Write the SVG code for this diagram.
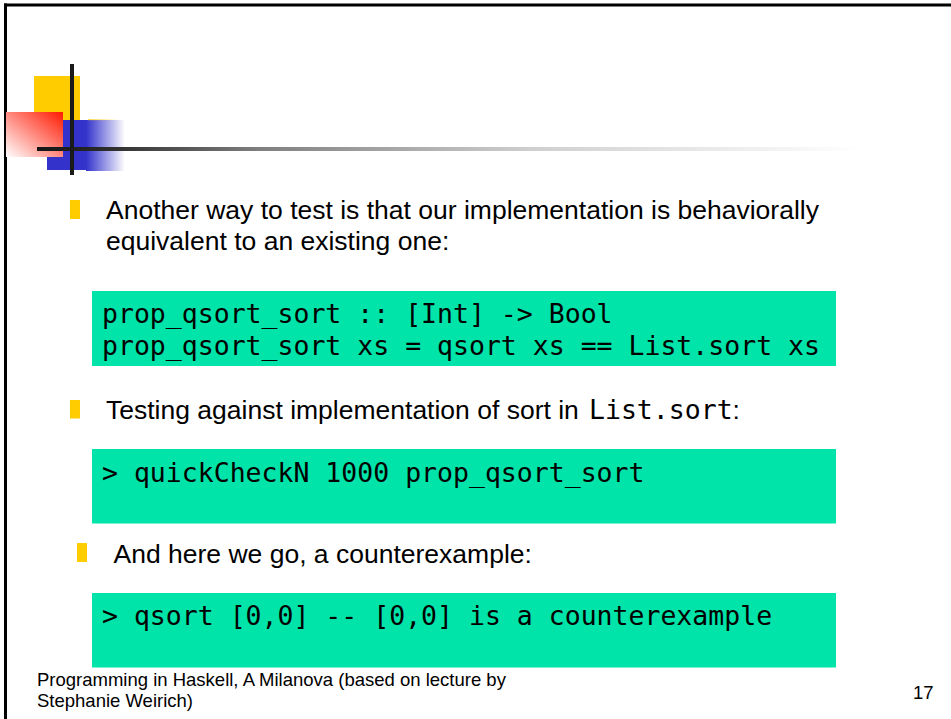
<svg xmlns="http://www.w3.org/2000/svg" width="951" height="719" viewBox="0 0 951 719">
  <style>
    .body { font-family: "Liberation Sans", Arial, sans-serif; font-size: 26.5px; fill: #000; }
    .code { font-family: "DejaVu Sans Mono", monospace; font-size: 26.5px; fill: #000; }
    .foot { font-family: "Liberation Sans", Arial, sans-serif; font-size: 18.5px; fill: #000; }
    .bullet { fill: #ffcc00; }
    .codebox { fill: #00e3a9; }
    .rule { fill: #1a1a1a; }
  </style>
  <defs>
    <linearGradient id="redFade" x1="1" y1="0" x2="0" y2="1">
      <stop offset="0" stop-color="#ff1a00"/>
      <stop offset="0.5" stop-color="#ff8a80"/>
      <stop offset="1" stop-color="#ffffff"/>
    </linearGradient>
    <linearGradient id="blueFade" x1="0" y1="0" x2="1" y2="0">
      <stop offset="0" stop-color="#3333cc" stop-opacity="1"/>
      <stop offset="1" stop-color="#3333cc" stop-opacity="0"/>
    </linearGradient>
    <linearGradient id="yellowFade" x1="0" y1="0" x2="1" y2="0">
      <stop offset="0" stop-color="#ffcc00" stop-opacity="0.7"/>
      <stop offset="1" stop-color="#ffcc00" stop-opacity="0"/>
    </linearGradient>
    <linearGradient id="lineFade" gradientUnits="userSpaceOnUse" x1="37" y1="0" x2="860" y2="0">
      <stop offset="0" stop-color="#151515"/>
      <stop offset="0.08" stop-color="#2a2a2a"/>
      <stop offset="0.27" stop-color="#7f7f7f"/>
      <stop offset="0.6" stop-color="#cfcfcf"/>
      <stop offset="1" stop-color="#ffffff"/>
    </linearGradient>
  </defs>

  <rect width="951" height="719" fill="#ffffff"/>

  <!-- slide frame: top and left edges -->
  <g id="frame">
    <rect x="4" y="3.5" width="947" height="3" fill="#000"/>
    <rect x="4" y="3.5" width="3" height="715.5" fill="#000"/>
  </g>

  <!-- title ornament -->
  <g id="ornament">
    <rect x="34" y="76" width="46" height="44" fill="#ffcc00"/>
    <rect x="47" y="120" width="39" height="50" fill="#3333cc"/>
    <rect x="86" y="120" width="39" height="51" fill="url(#blueFade)"/>
    <rect x="88" y="119" width="32" height="1.2" fill="url(#yellowFade)"/>
    <rect x="6" y="112" width="57" height="45" fill="url(#redFade)"/>
    <rect x="37" y="147" width="823" height="4" fill="url(#lineFade)"/>
    <rect class="rule" x="70" y="64" width="4" height="111"/>
  </g>

  <!-- first point -->
  <g id="point-1">
    <rect class="bullet" x="70" y="200" width="10" height="19"/>
    <text class="body" x="106" y="219">Another way to test is that our implementation is behaviorally</text>
    <text class="body" x="106" y="250">equivalent to an existing one:</text>
  </g>

  <g id="code-1">
    <rect class="codebox" x="92" y="291" width="744" height="75"/>
    <text class="code" x="102" y="322.5">prop_qsort_sort :: [Int] -&gt; Bool</text>
    <text class="code" x="102" y="355">prop_qsort_sort xs = qsort xs == List.sort xs</text>
  </g>

  <!-- second point -->
  <g id="point-2">
    <rect class="bullet" x="70" y="400" width="10" height="18.5"/>
    <text class="body" x="106" y="418.5">Testing against implementation of sort in <tspan class="code" x="589">List.sort</tspan>:</text>
  </g>

  <g id="code-2">
    <rect class="codebox" x="92" y="449" width="744" height="74.5"/>
    <text class="code" x="102" y="481.5">&gt; quickCheckN 1000 prop_qsort_sort</text>
  </g>

  <!-- third point -->
  <g id="point-3">
    <rect class="bullet" x="77" y="543" width="10" height="19"/>
    <text class="body" x="113.5" y="562.5">And here we go, a counterexample:</text>
  </g>

  <g id="code-3">
    <rect class="codebox" x="92" y="593" width="744" height="74.5"/>
    <text class="code" x="102" y="624.5">&gt; qsort [0,0] -- [0,0] is a counterexample</text>
  </g>

  <!-- footer -->
  <g id="footer">
    <text class="foot" x="37" y="686">Programming in Haskell, A Milanova (based on lecture by</text>
    <text class="foot" x="37" y="707">Stephanie Weirich)</text>
    <text class="foot" x="913" y="699">17</text>
  </g>
</svg>
